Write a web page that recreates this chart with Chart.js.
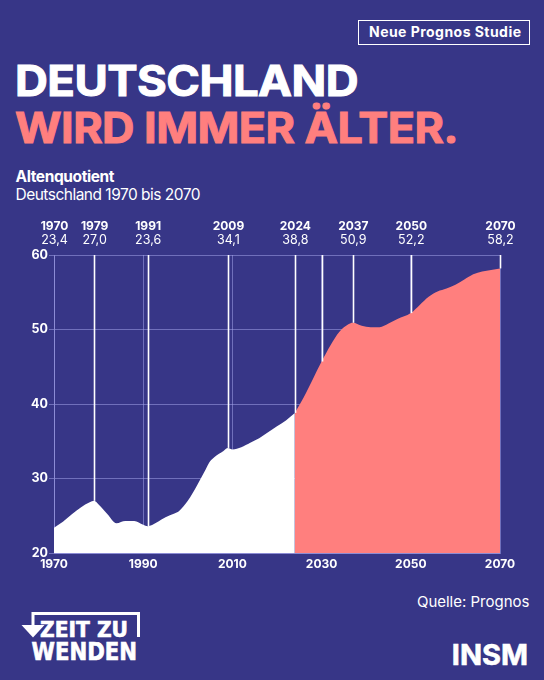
<!DOCTYPE html>
<html lang="de">
<head>
<meta charset="utf-8">
<script src="https://cdn.jsdelivr.net/npm/chart.js@4/dist/chart.umd.min.js"></script>
<style>
  html, body { margin:0; padding:0; }
  body { width:544px; height:680px; background:#373687; position:relative; overflow:hidden; font-family:Inter, "Noto Sans", sans-serif; color:#fff; }
  .abs { position:absolute; white-space:nowrap; line-height:1; }
  #badge { left:357.5px; top:19.5px; width:170px; height:23px; border:1.5px solid #fff; }
  #badgeText { left:369px; top:25px; font-size:14px; font-weight:700; }
  #t1 { left:15px; top:60px; font-size:42px; font-weight:700; color:#fff; -webkit-text-stroke:1px #fff; transform-origin:0 0; }
  #t2 { left:15px; top:107px; font-size:42px; font-weight:700; color:#FF7F7E; -webkit-text-stroke:1px #FF7F7E; transform-origin:0 0; }
  #sub1 { left:15.5px; top:168.5px; font-size:15.5px; font-weight:700; }
  #sub2 { left:15.5px; top:187px; font-size:15.5px; font-weight:400; }
  #src { right:14.5px; top:594px; font-size:15px; font-weight:400; }
  #insm { right:16px; top:640px; font-size:29px; font-weight:700; -webkit-text-stroke:0.6px #fff; }
  #chartWrap { position:absolute; left:0; top:205px; width:544px; height:375px; }
  #logo { position:absolute; left:0; top:600px; }
</style>
</head>
<body>
<div id="badge" class="abs"></div>
<div id="badgeText" class="abs" data-w="152">Neue Prognos Studie</div>
<div id="t1" class="abs" data-s="343">DEUTSCHLAND</div>
<div id="t2" class="abs" data-s="443">WIRD IMMER ÄLTER.</div>
<div id="sub1" class="abs" data-w="99">Altenquotient</div>
<div id="sub2" class="abs" data-w="185">Deutschland 1970 bis 2070</div>
<div id="chartWrap"><canvas id="c" width="544" height="375"></canvas></div>
<div id="src" class="abs">Quelle: Prognos</div>
<div id="insm" class="abs">INSM</div>
<svg id="logo" width="150" height="70" viewBox="0 0 150 70">
  <path d="M33 26 V13.5 H138.5 V37" fill="none" stroke="#fff" stroke-width="3"/>
  <polygon points="21.5,25 44.5,25 33,37.5" fill="#fff"/>
  <text x="40" y="37" font-family="'DejaVu Sans Condensed', 'DejaVu Sans', sans-serif" font-weight="700" font-size="22" fill="#fff" stroke="#fff" stroke-width="0.6" textLength="88" lengthAdjust="spacingAndGlyphs">ZEIT ZU</text>
  <text x="31.5" y="59.5" font-family="'DejaVu Sans Condensed', 'DejaVu Sans', sans-serif" font-weight="700" font-size="24" fill="#fff" stroke="#fff" stroke-width="0.6" textLength="105.5" lengthAdjust="spacingAndGlyphs">WENDEN</text>
</svg>
<script>
// ---- data ----
const histYears = [1970,1972,1974,1976,1978,1979,1980,1982,1984,1986,1988,1990,1991,1993,1995,1997,1998,2000,2002,2004,2005,2006,2008,2009,2010,2012,2014,2016,2018,2020,2022,2024];
const histValues = [23.4,24.2,25.2,26.1,26.8,27.0,26.5,25.2,24.0,24.3,24.3,23.8,23.6,24.1,24.8,25.3,25.6,27.0,29.0,31.2,32.3,32.9,33.7,34.1,33.9,34.2,34.8,35.4,36.2,37.0,37.8,38.8];
const projYears = [2024,2026,2028,2030,2032,2034,2036,2037,2039,2041,2043,2045,2047,2050,2052,2054,2056,2058,2060,2062,2064,2066,2068,2070];
const projValues = [38.8,40.9,43.3,45.7,47.9,49.7,50.7,50.9,50.5,50.3,50.3,50.8,51.4,52.2,53.3,54.4,55.1,55.5,56.0,56.7,57.4,57.8,58.0,58.2];
const annoYears = [1970,1979,1991,2009,2024,2037,2050,2070];
const annoValues = [23.4,27.0,23.6,34.1,38.8,50.9,52.2,58.2];
const extraLineYears = [2030];
const yTicks = [20,30,40,50,60];
const xTicks = [1970,1990,2010,2030,2050,2070];

// fit header texts to measured widths
document.querySelectorAll('[data-w]').forEach(el => {
  const target = parseFloat(el.dataset.w);
  const w = el.getBoundingClientRect().width;
  const n = el.textContent.length;
  if (n > 1) el.style.letterSpacing = ((target - w) / (n - 1)) + 'px';
});
document.querySelectorAll('[data-s]').forEach(el => {
  el.style.letterSpacing = '-0.5px';
  const target = parseFloat(el.dataset.s);
  const w = el.getBoundingClientRect().width;
  el.style.transform = 'scaleX(' + (target / w) + ')';
});

const lav = 'rgba(170,170,240,0.5)';
const fmt = v => v.toFixed(1).replace('.', ',');

const annoPlugin = {
  id: 'anno',
  afterDatasetsDraw(chart) {
    const {ctx, chartArea, scales:{x, y}} = chart;
    ctx.save();
    ctx.strokeStyle = '#fff';
    ctx.lineWidth = 1.6;
    const lineTo = (yr, val) => {
      const px = Math.round(x.getPixelForValue(yr)) + 0.5;
      ctx.beginPath();
      ctx.moveTo(px, chartArea.top);
      ctx.lineTo(px, y.getPixelForValue(val));
      ctx.stroke();
    };
    annoYears.forEach((yr, i) => { if (yr !== 1970) lineTo(yr, annoValues[i]); });
    extraLineYears.forEach(yr => {
      const i = projYears.indexOf(yr);
      lineTo(yr, projValues[i]);
    });
    ctx.fillStyle = '#fff';
    ctx.textAlign = 'center';
    ctx.textBaseline = 'middle';
    annoYears.forEach((yr, i) => {
      const px = x.getPixelForValue(yr);
      ctx.font = '700 12px Inter';
      ctx.fillText(String(yr), px + 0.5, chartArea.top - 29);
      ctx.font = '400 12.5px Inter';
      ctx.fillText(fmt(annoValues[i]), px + 0.5, chartArea.top - 15);
    });
    ctx.restore();
  }
};

new Chart(document.getElementById('c'), {
  type: 'line',
  data: {
    datasets: [
      {
        data: histYears.map((yr, i) => ({x: yr, y: histValues[i]})),
        borderColor: '#ffffff', borderWidth: 0, backgroundColor: '#ffffff',
        fill: 'start', pointRadius: 0, cubicInterpolationMode: 'monotone'
      },
      {
        data: projYears.map((yr, i) => ({x: yr, y: projValues[i]})),
        borderColor: '#FF7F7E', borderWidth: 0, backgroundColor: '#FF7F7E',
        fill: 'start', pointRadius: 0, cubicInterpolationMode: 'monotone'
      }
    ]
  },
  options: {
    responsive: false, animation: false,
    layout: { padding: { top: 50, right: 44, left: 0, bottom: 5 } },
    plugins: { legend: { display: false }, tooltip: { enabled: false } },
    scales: {
      x: {
        type: 'linear', min: 1970, max: 2070,
        afterBuildTicks: s => { s.ticks = xTicks.map(v => ({value: v})); },
        afterFit: s => { s.height = 22; },
        grid: { color: lav, lineWidth: 1, drawTicks: false },
        border: { color: lav, width: 1 },
        ticks: { color: '#fff', padding: 4, font: { family: 'Inter', weight: '700', size: 12 }, callback: v => String(v), maxRotation: 0 }
      },
      y: {
        min: 20, max: 60,
        afterBuildTicks: s => { s.ticks = yTicks.map(v => ({value: v})); },
        afterFit: s => { s.width = 54; },
        grid: { color: lav, lineWidth: 1, tickLength: 5 },
        border: { color: lav, width: 1 },
        ticks: { color: '#fff', padding: 1, font: { family: 'Inter', weight: '700', size: 12.5 }, callback: v => String(v) }
      }
    }
  },
  plugins: [annoPlugin]
});
</script>
</body>
</html>
